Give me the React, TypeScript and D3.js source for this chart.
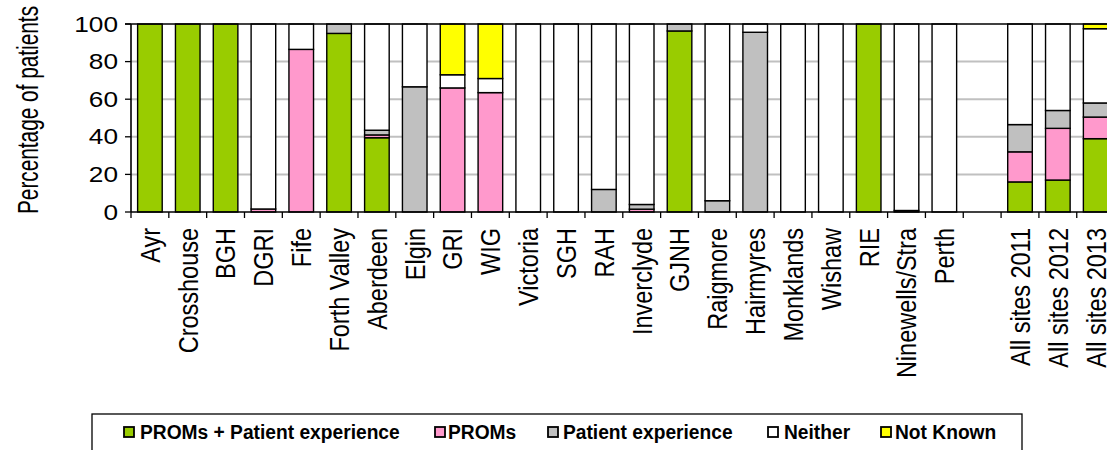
import React from "react";
import * as d3 from "d3";

const categories = ["Ayr","Crosshouse","BGH","DGRI","Fife","Forth Valley","Aberdeen","Elgin","GRI","WIG","Victoria","SGH","RAH","Inverclyde","GJNH","Raigmore","Hairmyres","Monklands","Wishaw","RIE","Ninewells/Stra","Perth","","All sites 2011","All sites 2012","All sites 2013"];
const promsPE =    [100,100,100,0,0,95,39.5,0,0,0,0,0,0,0,96.3,0,0,0,0,100,0,0,0,16,17,39];
const proms =      [0,0,0,1.6,86.5,0,1.5,0,66,63.5,0,0,0,1.5,0,0,0,0,0,0,0,0,0,16,27.5,11.5];
const patientExp = [0,0,0,0,0,5,2.5,66.6,0,0,0,0,12,2.5,3.7,6,95.6,0,0,0,0.8,0,0,14.5,9.5,7.5];
const neither =    [0,0,0,98.4,13.5,0,56.5,33.4,7,7.5,100,100,88,96,0,94,4.4,100,100,0,99.2,100,0,53.5,46,39.5];
const notKnown =   [0,0,0,0,0,0,0,0,27,29,0,0,0,0,0,0,0,0,0,0,0,0,0,0,0,2.5];
const seriesNames = ["PROMs + Patient experience","PROMs","Patient experience","Neither","Not Known"];
const seriesColors = ["#99CC00","#FF99CC","#C0C0C0","#FFFFFF","#FFFF00"];
const yTicks = [0,20,40,60,80,100];

const FONT = "'Liberation Sans', Arial, sans-serif";

export default function App() {
  const W = 1107, H = 450;
  const x0 = 131, step = 37.83, yTop = 24, yBot = 212;
  const x = d3.scaleBand<string>().domain(categories.map((c, i) => c + "|" + i))
    .range([x0, x0 + step * categories.length]).paddingInner(0.35).paddingOuter(0.175);
  const y = d3.scaleLinear().domain([0, 100]).range([yBot, yTop]);
  const seriesData = [promsPE, proms, patientExp, neither, notKnown];
  const rows = categories.map((c, i) => {
    const r: any = { key: c + "|" + i };
    seriesNames.forEach((s, k) => (r[s] = seriesData[k][i]));
    return r;
  });
  const stacked = d3.stack<any>().keys(seriesNames)(rows);
  const xEnd = x0 + step * categories.length;

  const legendItems = [
    { sx: 124, tx: 140 },
    { sx: 435, tx: 448 },
    { sx: 548, tx: 563 },
    { sx: 768, tx: 784 },
    { sx: 881, tx: 895 },
  ];

  return (
    <svg width={W} height={H} style={{ position: "absolute", left: 0, top: 0, background: "#fff" }} fontFamily={FONT}>
      <rect x={0} y={0} width={W} height={H} fill="#fff" />
      {yTicks.filter(t => t > 0 && t < 100).map(t => (
        <line key={t} x1={x0} x2={xEnd} y1={y(t)} y2={y(t)} stroke="#C0C0C0" strokeWidth={2} />
      ))}
      {stacked.map((s, k) => (
        <g key={s.key} fill={seriesColors[k]}>
          {s.map((d, i) => d[1] - d[0] > 0 ? (
            <rect key={i} x={x(d.data.key)!} width={x.bandwidth()} y={y(d[1])} height={y(d[0]) - y(d[1])}
              stroke="#000" strokeWidth={1.4} />
          ) : null)}
        </g>
      ))}
      <line x1={x0 - 6} x2={xEnd} y1={yTop} y2={yTop} stroke="#000" strokeWidth={1.6} />
      <line x1={x0} x2={x0} y1={yTop} y2={yBot} stroke="#000" strokeWidth={1.6} />
      <line x1={x0} x2={xEnd} y1={yBot} y2={yBot} stroke="#000" strokeWidth={1.6} />
      {yTicks.map(t => (
        <g key={t}>
          <line x1={x0 - 6} x2={x0} y1={y(t)} y2={y(t)} stroke="#000" strokeWidth={1.3} />
          <text x={0} y={0} dy="0.35em" textAnchor="end" fontSize={21.5} fill="#000"
            transform={`translate(118,${y(t)}) scale(1.22,1)`}>{t}</text>
        </g>
      ))}
      {d3.range(categories.length + 1).map(i => (
        <line key={i} x1={x0 + i * step} x2={x0 + i * step} y1={yBot} y2={yBot + 6} stroke="#000" strokeWidth={1.3} />
      ))}
      {categories.map((c, i) => {
        const cx = x(c + "|" + i)! + x.bandwidth() / 2;
        return (
          <text key={i} transform={`translate(${cx},228) rotate(-90) scale(1,1.2)`} dy="0.35em" textAnchor="end"
            fontSize={23.5} fill="#000">{c}</text>
        );
      })}
      <text transform="translate(28,110) rotate(-90) scale(1,1.4)" dy="0.35em" textAnchor="middle" fontSize={20.8} fill="#000">
        Percentage of patients
      </text>
      <rect x={92} y={414} width={930} height={60} fill="none" stroke="#000" strokeWidth={1.3} />
      {legendItems.map((it, k) => (
        <g key={k}>
          <rect x={it.sx} y={427} width={10} height={10} fill={seriesColors[k]} stroke="#000" strokeWidth={1.8} />
          <text x={0} y={0} fontSize={20} fontWeight="bold" fill="#000"
            transform={`translate(${it.tx},439) scale(0.96,1)`}>{seriesNames[k]}</text>
        </g>
      ))}
    </svg>
  );
}
